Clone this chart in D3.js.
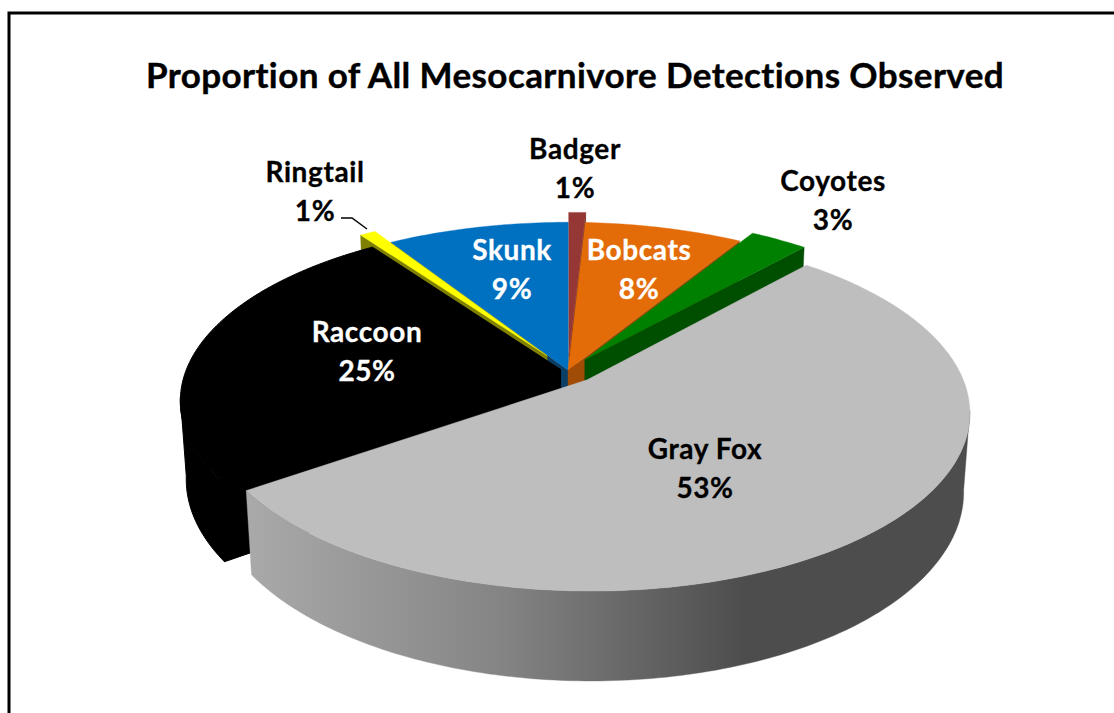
<!DOCTYPE html>
<html>
<head>
<meta charset="utf-8">
<script src="https://cdn.jsdelivr.net/npm/d3@7/dist/d3.min.js"></script>
<style>
html,body{margin:0;padding:0;background:#fff;overflow:hidden}
svg{display:block}
text{font-family:Lato,"Noto Sans",sans-serif;font-weight:700;font-variant-ligatures:none;font-feature-settings:"liga" 0}
</style>
</head>
<body>
<svg id="c" width="1114" height="713"></svg>
<script>
// Data
const categories = ["Badger","Bobcats","Coyotes","Gray Fox","Raccoon","Ringtail","Skunk"];
const values = [0.85,7.85,2.9,53.7,24.9,0.8,9.0];
const percentLabels = ["1%","8%","3%","53%","25%","1%","9%"];
const titleText = "Proportion of All Mesocarnivore Detections Observed";

// Styling
const topColors  = ["#953735","#e36c09","#008000","#bebebe","#000000","#ffff00","#0070c0"];
const wallColors = ["#5f2321","#a04c06","#004f00","#4d4d4d","#000000","#7f7f00","#0c3f66"];
const labelColors = ["#000","#fff","#000","#000","#fff","#000","#fff"];
const explodeBy = [0.08,0,0.075,0.075,0.02,0.1,0];
const radiusBy  = [1,1,1,0.98,0.985,1,1];
const labelAt = [[575,150],[639,251],[833,182],[705,450],[367,333],[315,173],[512,251]];
const paintOrder = [0,6,1,5,2,4,3];

// Projection of the tilted pie plane
const cx=568, cy=370, R=380, S=174, P=0.178, D=78, Q=0.015;
function project(u,v,z){
  const w = 1 - P*v + Q*z;
  return [cx + R*u/w, cy + (S*v + D*z)/w];
}

const svg = d3.select("#c");
const defs = svg.append("defs");
const grad = defs.append("linearGradient").attr("id","foxWall")
  .attr("gradientUnits","userSpaceOnUse").attr("x1",250).attr("x2",745).attr("y1",0).attr("y2",0);
[[0,"#a9a9a9"],[0.5,"#858585"],[1,"#4d4d4d"]].forEach(s=>grad.append("stop").attr("offset",s[0]).attr("stop-color",s[1]));

svg.append("rect").attr("x",9).attr("y",13).attr("width",1200).attr("height",800)
  .attr("fill","#fff").attr("stroke","#000").attr("stroke-width",3);

svg.append("text").attr("x",575).attr("y",87.5).attr("text-anchor","middle")
  .attr("font-size",35).attr("letter-spacing",0.4).attr("fill","#000")
  .attr("stroke","#000").attr("stroke-width",0.4).text(titleText);

const pie = d3.pie().sort(null).value(d=>d)(values);
const line = d3.line();

function sliceGeom(i){
  const a=pie[i].startAngle, b=pie[i].endAngle, mid=(a+b)/2, e=explodeBy[i], k=radiusBy[i];
  const ox=e*Math.sin(mid), oy=-e*Math.cos(mid);
  const n=Math.max(4,Math.ceil((b-a)*60));
  const angs=d3.range(n+1).map(j=>a+(b-a)*j/n);
  const rimOf=(list,z)=>list.map(t=>project(ox+k*Math.sin(t),oy-k*Math.cos(t),z));
  const front=angs.filter(t=>Math.cos(t)<-P+0.02);
  return {a,b,angs,front,rimOf,apex:z=>project(ox,oy,z)};
}

paintOrder.forEach(i=>{
  const g=sliceGeom(i), r0=g.rimOf(g.angs,0), r1=g.rimOf(g.angs,1), a0=g.apex(0), a1=g.apex(1);
  const wall = i===3 ? "url(#foxWall)" : wallColors[i];
  const G=svg.append("g").attr("class","slice");
  const sw = i===4 ? 1 : 0.4;
  const face=(pts,fill)=>G.append("path").attr("d",line(pts)+"Z").attr("fill",fill).attr("stroke",fill).attr("stroke-width",sw);
  // radial walls that face the viewer
  if(Math.sin(g.a)<0) face([a0,r0[0],r1[0],a1],wallColors[i]);
  if(Math.sin(g.b)>0) face([a0,r0[r0.length-1],r1[r1.length-1],a1],wallColors[i]);
  // outer wall, front part only
  if(g.front.length>1){
    const f0=g.rimOf(g.front,0), f1=g.rimOf(g.front,1);
    face(f0.concat(f1.slice().reverse()),wall);
  }
  // top face
  face([a0].concat(r0),topColors[i]);
});

// leader line for Ringtail
svg.append("path").attr("d","M341,218L352,218L367,229").attr("fill","none").attr("stroke","#000").attr("stroke-width",1.5);

categories.forEach((c,i)=>{
  const t=svg.append("text").attr("text-anchor","middle").attr("font-size",28).attr("letter-spacing",0.6)
    .attr("fill",labelColors[i]).attr("stroke",labelColors[i]).attr("stroke-width",0.3);
  t.append("tspan").attr("x",labelAt[i][0]).attr("y",labelAt[i][1]+9).text(c);
  t.append("tspan").attr("x",labelAt[i][0]).attr("y",labelAt[i][1]+48).text(percentLabels[i]);
});
</script>
</body>
</html>
